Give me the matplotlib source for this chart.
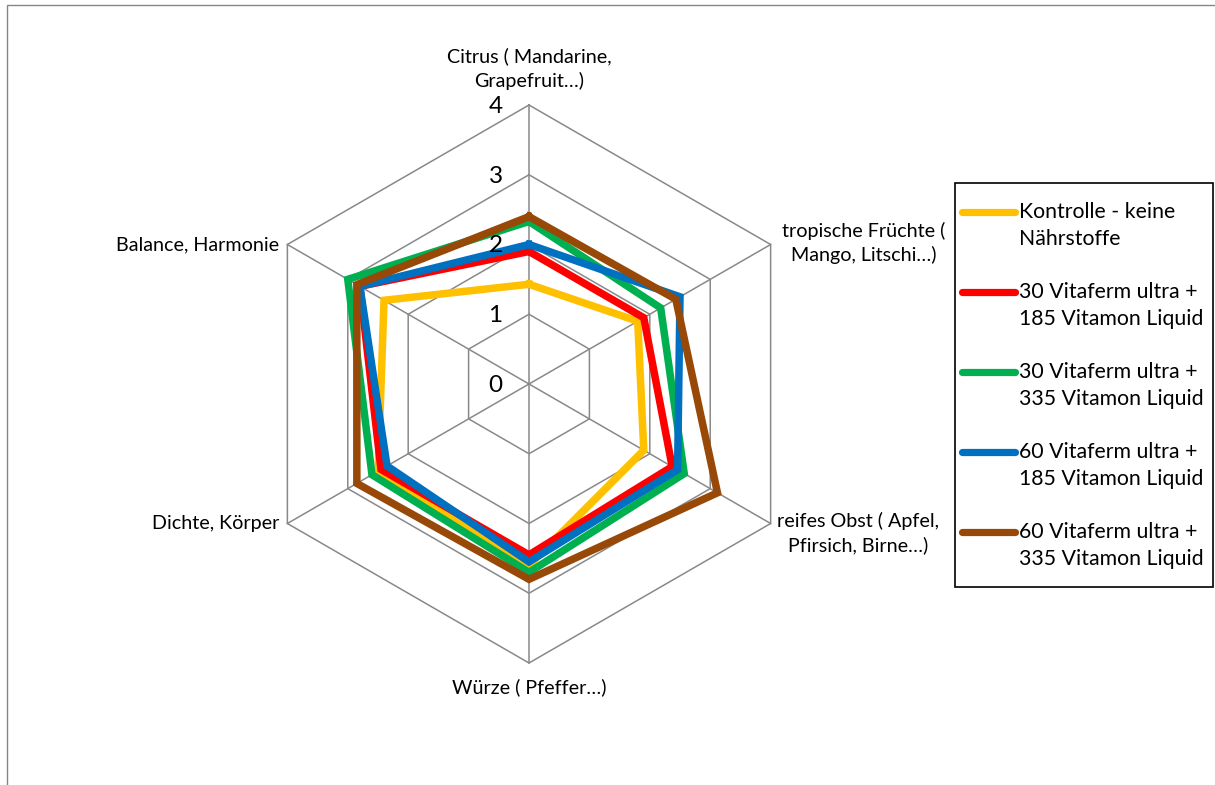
import numpy as np
import matplotlib
matplotlib.use("Agg")
import matplotlib.pyplot as plt
from matplotlib.lines import Line2D
from matplotlib.patches import Rectangle

plt.rcParams['font.family'] = ['Lato', 'DejaVu Sans']

# categories clockwise from the top
categories = [
    "Citrus ( Mandarine,\nGrapefruit…)",
    "tropische Früchte (\nMango, Litschi…)",
    "reifes Obst ( Apfel,\nPfirsich, Birne…)",
    "Würze ( Pfeffer…)",
    "Dichte, Körper",
    "Balance, Harmonie",
]

series_names = [
    "Kontrolle - keine\nNährstoffe",
    "30 Vitaferm ultra +\n185 Vitamon Liquid",
    "30 Vitaferm ultra +\n335 Vitamon Liquid",
    "60 Vitaferm ultra +\n185 Vitamon Liquid",
    "60 Vitaferm ultra +\n335 Vitamon Liquid",
]

kontrolle = [1.43, 1.8, 1.9, 2.6, 2.5, 2.4]
vf30_vm185 = [1.9, 1.9, 2.37, 2.45, 2.45, 2.8]
vf30_vm335 = [2.33, 2.18, 2.57, 2.7, 2.6, 3.0]
vf60_vm185 = [2.0, 2.5, 2.46, 2.55, 2.35, 2.8]
vf60_vm335 = [2.4, 2.43, 3.12, 2.8, 2.85, 2.85]

colors = ["#FFC000", "#FF0000", "#00B050", "#0070C0", "#984807"]
ticks = [0, 1, 2, 3, 4]

all_series = [kontrolle, vf30_vm185, vf30_vm335, vf60_vm185, vf60_vm335]

# ===============================
# PLOTTING
# ===============================

fig = plt.figure(figsize=(12.15, 7.85), dpi=100)

# outer chart frame (only top and left edges are inside the picture)
fig.add_artist(Rectangle((7 / 1215, -0.1), 1.2, 1.1 - 5 / 785,
                         transform=fig.transFigure, fill=False,
                         edgecolor="#868686", linewidth=1.0))

ax = fig.add_axes([250 / 1215, 122 / 785, 558 / 1215, 558 / 785], projection="polar")
ax.set_theta_zero_location("N")
ax.set_theta_direction(-1)
ax.set_ylim(0, 4)
ax.grid(False)
ax.spines["polar"].set_visible(False)
ax.set_xticks([])
ax.set_yticks([])
ax.patch.set_visible(False)

n = len(categories)
angles = np.linspace(0, 2 * np.pi, n, endpoint=False)
closed = np.append(angles, angles[0])

grid_col = "#898989"
for r in ticks[1:]:
    ax.plot(closed, [r] * (n + 1), color=grid_col, lw=1.1, clip_on=False, zorder=1)
for a in angles:
    ax.plot([a, a], [0, ticks[-1]], color=grid_col, lw=1.1, clip_on=False, zorder=1)

for vals, col in zip(all_series, colors):
    ax.plot(closed, vals + vals[:1], color=col, lw=5.4, clip_on=False, zorder=3,
            solid_joinstyle="miter")

# radial tick labels
for t in ticks:
    ax.annotate(str(t), xy=(0, t), xytext=(-19, -1), textcoords="offset points",
                ha="right", va="center", fontsize=17.5, color="#000000", zorder=4)

# category labels
label_pos = [
    ((0, 11), "center", "bottom"),
    ((67, 1), "center", "center"),
    ((63, -7), "center", "center"),
    ((0, -11), "center", "top"),
    ((-6, 0), "right", "center"),
    ((-6, 0), "right", "center"),
]
for a, lab, (off, ha, va) in zip(angles, categories, label_pos):
    ax.annotate(lab, xy=(a, 4), xytext=off, textcoords="offset points",
                ha=ha, va=va, fontsize=14.2, linespacing=1.42, multialignment="center")

# legend box
W, H = 1215, 785
fig.add_artist(Rectangle((955 / W, 1 - 587 / H), 258 / W, 404 / H,
                         transform=fig.transFigure, fill=False,
                         edgecolor="black", linewidth=1.2))
for i, (name, col) in enumerate(zip(series_names, colors)):
    y = 212 + 80 * i
    fig.add_artist(Line2D([962 / W, 1015 / W], [1 - y / H, 1 - y / H],
                          transform=fig.transFigure, color=col, lw=5.2,
                          solid_capstyle="round"))
    fig.text(1019 / W, 1 - (y - 10) / H, name, ha="left", va="top",
             fontsize=15.3, linespacing=1.45)

fig.savefig("out.png", dpi=100)
